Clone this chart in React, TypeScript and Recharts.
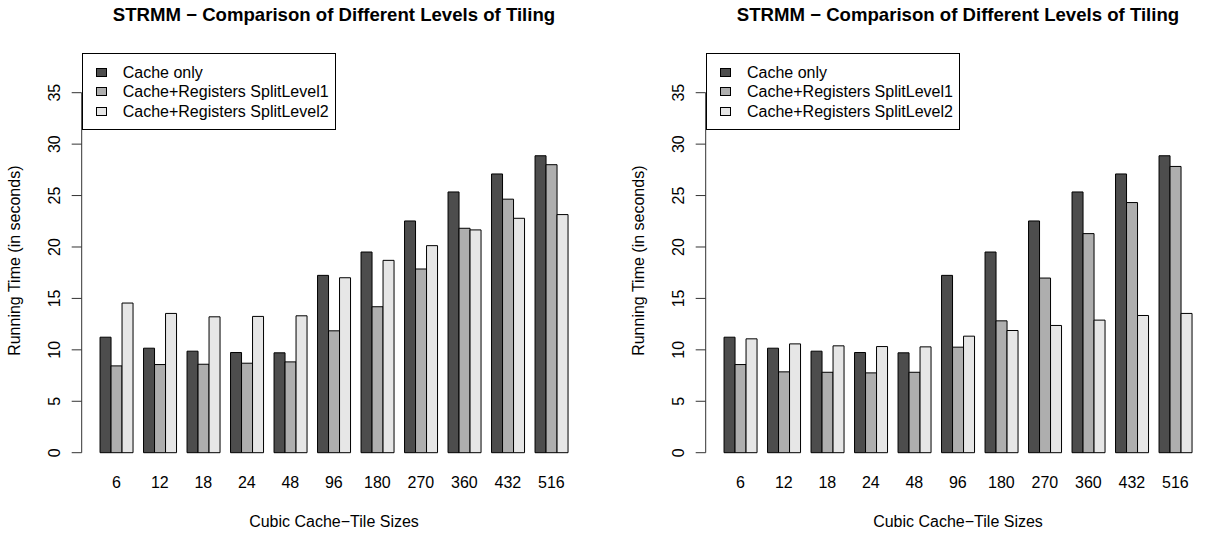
import { BarChart, Bar, XAxis, YAxis, Legend } from "recharts";

const sizes = ["6", "12", "18", "24", "48", "96", "180", "270", "360", "432", "516"];

// same baseline in both panels
const cacheOnly = [11.23, 10.16, 9.87, 9.74, 9.71, 17.24, 19.51, 22.53, 25.35, 27.1, 28.87];

// left panel
const leftSplit1 = [8.44, 8.57, 8.6, 8.7, 8.83, 11.85, 14.19, 17.86, 21.82, 24.65, 28.0];
const leftSplit2 = [14.55, 13.54, 13.21, 13.25, 13.31, 17.01, 18.7, 20.13, 21.66, 22.79, 23.15];

// right panel
const rightSplit1 = [8.57, 7.86, 7.82, 7.76, 7.82, 10.26, 12.82, 16.98, 21.3, 24.32, 27.83];
const rightSplit2 = [11.07, 10.58, 10.39, 10.32, 10.29, 11.33, 11.88, 12.37, 12.89, 13.34, 13.54];

const yTicks = [0, 5, 10, 15, 20, 25, 30, 35];

const seriesNames = ["Cache only", "Cache+Registers SplitLevel1", "Cache+Registers SplitLevel2"];
const seriesColors = ["#4D4D4D", "#AEAEAE", "#E6E6E6"];

const TITLE = "STRMM \u2212 Comparison of Different Levels of Tiling";
const FONT = "'Liberation Sans', Arial, Helvetica, sans-serif";
const FS = 16;

const PANEL_W = 602;
const PANEL_H = 533;

const buildRows = (a: number[], b: number[], c: number[]) =>
  sizes.map((s, i) => ({ size: s, s0: a[i], s1: b[i], s2: c[i] }));

// R style rotated y tick label
const YTick = ({ x, y, payload }: any) => (
  <text
    x={x}
    y={y}
    transform={`rotate(-90 ${x} ${y})`}
    textAnchor="middle"
    fill="#000"
    fontSize={FS}
    fontFamily={FONT}
  >
    {payload.value}
  </text>
);

const LegendBox = ({ payload }: any) => (
  <div
    style={{
      boxSizing: "border-box",
      width: 254.3,
      height: 76.7,
      border: "1px solid #000",
      background: "#fff",
      paddingTop: 8.5,
      fontFamily: FONT,
      fontSize: FS,
      color: "#000",
    }}
  >
    {(payload || []).map((p: any) => (
      <div key={p.value} style={{ height: 19.6, lineHeight: "19.6px", position: "relative" }}>
        <span
          style={{
            position: "absolute",
            left: 13,
            top: 5,
            width: 11,
            height: 9,
            boxSizing: "border-box",
            border: "1px solid #000",
            background: p.color,
          }}
        />
        <span style={{ position: "absolute", left: 40, top: 0, whiteSpace: "nowrap" }}>{p.value}</span>
      </div>
    ))}
  </div>
);

type PanelProps = { rows: any[]; left: number };

function Panel({ rows, left }: PanelProps) {
  return (
    <div style={{ position: "absolute", left, top: 0, width: PANEL_W, height: PANEL_H }}>
      <svg
        width={PANEL_W}
        height={40}
        style={{ position: "absolute", left: 0, top: 0, pointerEvents: "none" }}
      >
        <text
          x={334}
          y={20.7}
          textAnchor="middle"
          fontFamily={FONT}
          fontWeight="bold"
          fontSize={18.6}
          fill="#000"
        >
          {TITLE}
        </text>
      </svg>
      <BarChart
        width={PANEL_W}
        height={PANEL_H}
        data={rows}
        margin={{ top: 92.7, right: 15.7, bottom: 0, left: 0 }}
        barCategoryGap="12.5%"
        barGap={0}
      >
        <XAxis
          dataKey="size"
          height={80.3}
          axisLine={false}
          tickLine={false}
          tickSize={0}
          tickMargin={24.3}
          interval={0}
          padding={{ left: 12.9, right: 13.2 }}
          tick={{ fill: "#000", fontSize: FS, fontFamily: FONT }}
          label={(props: any) => {
            const vb = props.viewBox;
            return (
              <text
                x={vb.x + vb.width / 2}
                y={vb.y + 74}
                textAnchor="middle"
                fill="#000"
                fontSize={FS}
                fontFamily={FONT}
              >
                Cubic Cache{"\u2212"}Tile Sizes
              </text>
            );
          }}
        />
        <YAxis
          width={81.7}
          domain={[0, 35]}
          ticks={yTicks}
          interval={0}
          tickSize={10}
          tickMargin={12}
          stroke="#333"
          tick={<YTick />}
          label={() => (
            <text
              x={20}
              y={260.7}
              transform="rotate(-90 20 260.7)"
              textAnchor="middle"
              fill="#000"
              fontSize={FS}
              fontFamily={FONT}
            >
              Running Time (in seconds)
            </text>
          )}
        />
        <Legend
          layout="horizontal"
          verticalAlign="middle"
          align="center"
          content={<LegendBox />}
          wrapperStyle={{ left: 81.7, top: 53.3, width: 254.3, height: 76.7 }}
        />
        {["s0", "s1", "s2"].map((k, i) => (
          <Bar
            key={k}
            dataKey={k}
            name={seriesNames[i]}
            fill={seriesColors[i]}
            stroke="#000"
            strokeWidth={1}
            isAnimationActive={false}
          />
        ))}
      </BarChart>
    </div>
  );
}

export default function App() {
  const leftRows = buildRows(cacheOnly, leftSplit1, leftSplit2);
  const rightRows = buildRows(cacheOnly, rightSplit1, rightSplit2);
  return (
    <div
      style={{
        position: "absolute",
        left: 0,
        top: 0,
        width: 1205,
        height: 533,
        overflow: "hidden",
        background: "#fff",
      }}
    >
      <Panel rows={leftRows} left={0} />
      <Panel rows={rightRows} left={624.3} />
    </div>
  );
}
